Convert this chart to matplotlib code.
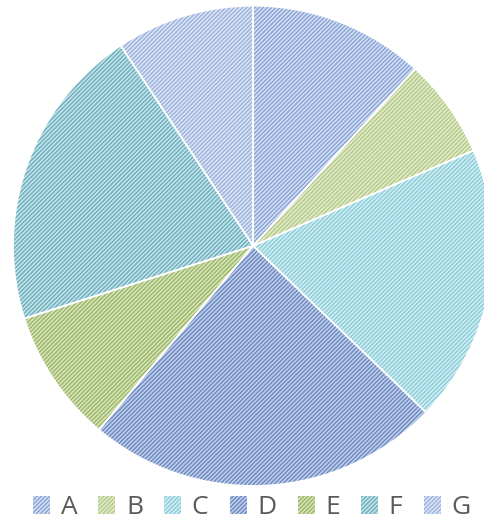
import matplotlib.pyplot as plt
from matplotlib.patches import Patch

labels = ['A', 'B', 'C', 'D', 'E', 'F', 'G']
values = [11.8, 6.7, 18.7, 23.9, 9.0, 20.6, 9.3]
base = ['#d5e0f2', '#e3ecce', '#d4eef2', '#c2d0e9', '#d9e4bf', '#c7e3e8', '#dce5f4']
hatch_col = ['#88a4d6', '#b4c985', '#88cddb', '#6b88c2', '#9ab764', '#6aaebe', '#9ab1dd']

plt.rcParams['hatch.linewidth'] = 1.0
plt.rcParams['font.family'] = ['Open Sans', 'DejaVu Sans']

fig = plt.figure(figsize=(4.84, 5.23), dpi=100)
ax = fig.add_axes([0.027, 0.071, 0.992, 0.918])

# solid light fill
wedges, _ = ax.pie(values, colors=base, startangle=90, counterclock=False,
                   wedgeprops=dict(edgecolor='none', linewidth=0))
# hatch layer on top
hw, _ = ax.pie(values, startangle=90, counterclock=False,
               wedgeprops=dict(facecolor='none', linewidth=0))
for w, c in zip(hw, hatch_col):
    w.set_hatch('////////')
    w.set_edgecolor(c)
# white separators
ax.pie(values, startangle=90, counterclock=False,
       wedgeprops=dict(facecolor='none', edgecolor='white', linewidth=1.2))

ax.set_xlim(-1, 1)
ax.set_ylim(-1, 1)
ax.set_aspect('auto')
ax.axis('off')

handles = []
for b, c in zip(base, hatch_col):
    p = Patch(facecolor=b, edgecolor=c, hatch='////////', linewidth=0)
    handles.append(p)
leg = fig.legend(handles, labels, loc='center', bbox_to_anchor=(0.52, 0.029), ncol=7,
                 frameon=False, fontsize=19, handlelength=0.65, handleheight=0.65,
                 handletextpad=0.4, columnspacing=0.8, borderpad=0)
for t in leg.get_texts():
    t.set_color('#595959')

fig.savefig('out.png', dpi=100)
